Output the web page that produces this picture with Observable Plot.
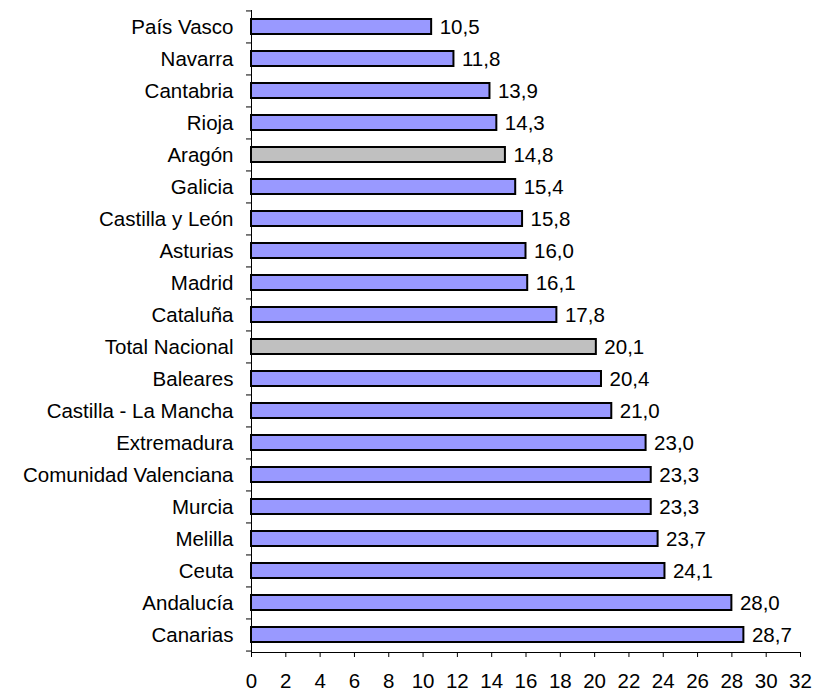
<!DOCTYPE html>
<html>
<head>
<meta charset="utf-8">
<script src="https://cdn.jsdelivr.net/npm/d3@7"></script>
<script src="https://cdn.jsdelivr.net/npm/@observablehq/plot@0.6"></script>
<style>
  body { margin: 0; background: #fff; }
  svg { font-family: "Liberation Sans", Arial, sans-serif; }
</style>
</head>
<body>
<div id="chart"></div>
<script>
const regions = ["País Vasco", "Navarra", "Cantabria", "Rioja", "Aragón", "Galicia", "Castilla y León", "Asturias", "Madrid", "Cataluña", "Total Nacional", "Baleares", "Castilla - La Mancha", "Extremadura", "Comunidad Valenciana", "Murcia", "Melilla", "Ceuta", "Andalucía", "Canarias"];
const values = [10.5, 11.8, 13.9, 14.3, 14.8, 15.4, 15.8, 16.0, 16.1, 17.8, 20.1, 20.4, 21.0, 23.0, 23.3, 23.3, 23.7, 24.1, 28.0, 28.7];
const highlighted = ["Aragón", "Total Nacional"];
const xTicks = [0, 2, 4, 6, 8, 10, 12, 14, 16, 18, 20, 22, 24, 26, 28, 30, 32];

const data = regions.map((r, i) => ({region: r, value: values[i], gray: highlighted.includes(r)}));
const halfStep = (652 - 10) / regions.length / 2;

const chart = Plot.plot({
  width: 813,
  height: 693,
  marginLeft: 251,
  marginRight: 13,
  marginTop: 10,
  marginBottom: 41,
  style: {fontSize: "20.5px", fontFamily: "'Liberation Sans', Arial, sans-serif", color: "#000", background: "#fff"},
  x: {domain: [0, 32], ticks: xTicks},
  y: {domain: regions, paddingInner: 0.53, paddingOuter: 0.265},
  marks: [
    Plot.barX(data, {
      y: "region", x: "value",
      fill: d => d.gray ? "#c0c0c0" : "#9999ff",
      stroke: "#000", strokeWidth: 2
    }),
    Plot.text(data, {
      y: "region", x: "value",
      text: d => d.value.toFixed(1).replace(".", ","),
      textAnchor: "start", dx: 8, fontSize: 20.5, fill: "#000"
    }),
    Plot.ruleX([0], {stroke: "#000"}),
    Plot.frame({anchor: "bottom", stroke: "#000"}),
    Plot.axisY({tickSize: 0, tickPadding: 18, label: null, fontSize: 20.5}),
    Plot.axisY({tickSize: 5, tickFormat: () => "", label: null, dy: -halfStep}),
    Plot.axisY([regions[regions.length - 1]], {tickSize: 5, tickFormat: () => "", label: null, dy: halfStep}),
    Plot.axisX({ticks: xTicks, tickSize: 5, tickPadding: 16, label: null, fontSize: 20.5, tickFormat: d => String(d)})
  ]
});
document.getElementById("chart").appendChild(chart);
</script>
</body>
</html>
